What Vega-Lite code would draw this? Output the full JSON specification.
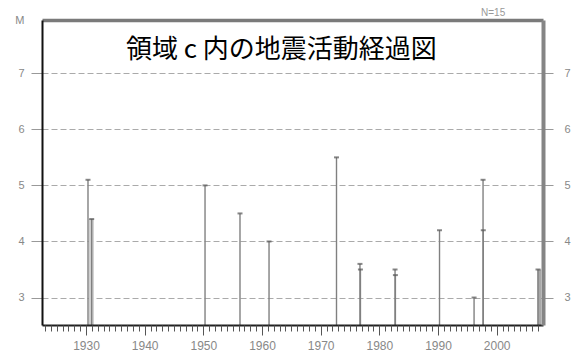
{
  "$schema": "https://vega.github.io/schema/vega-lite/v6.json",
  "width": 501,
  "height": 305,
  "autosize": {"type": "none"},
  "padding": {"left": 42, "top": 20, "right": 29, "bottom": 28},
  "background": "white",
  "config": {"view": {"stroke": null}, "font": "Liberation Sans"},
  "datasets": {
    "quakes": [
      {"t": 1930.34, "m": 5.1},
      {"t": 1930.97, "m": 4.4},
      {"t": 1950.29, "m": 5.0},
      {"t": 1956.25, "m": 4.5},
      {"t": 1961.2, "m": 4.0},
      {"t": 1972.7, "m": 5.5},
      {"t": 1976.7, "m": 3.6},
      {"t": 1976.78, "m": 3.5},
      {"t": 1982.68, "m": 3.5},
      {"t": 1982.74, "m": 3.4},
      {"t": 1990.26, "m": 4.2},
      {"t": 1996.15, "m": 3.0},
      {"t": 1997.68, "m": 5.1},
      {"t": 1997.72, "m": 4.2},
      {"t": 2007.05, "m": 3.5}
    ],
    "bands": [
      {"t0": 1930.45, "t1": 1931.35, "m": 4.4, "g": "a"},
      {"t0": 2006.95, "t1": 2007.6, "m": 3.5, "g": "b"}
    ],
    "labels": [
      {"t": 1963.3, "m": 7.42, "txt": "領域 c 内の地震活動経過図", "k": "title"},
      {"t": 1999.4, "m": 8.07, "txt": "N=15", "k": "n"}
    ]
  },
  "resolve": {"axis": {"x": "independent", "y": "independent"}},
  "layer": [
    {
      "data": {"name": "bands"},
      "mark": {"type": "rect"},
      "encoding": {
        "x": {"field": "t0", "type": "quantitative",
              "scale": {"domain": [1922.5, 2007.9], "zero": false, "nice": false},
              "axis": {"orient": "bottom", "values": [1930, 1940, 1950, 1960, 1970, 1980, 1990, 2000],
                       "format": "d", "title": null, "grid": false, "domain": true, "domainColor": "#222", "domainWidth": 2,
                       "tickSize": 10, "tickColor": "#555", "tickWidth": 1, "labelColor": "#888", "labelFontSize": 12,
                       "labelPadding": 5, "labelFlush": false, "zindex": 1}},
        "x2": {"field": "t1"},
        "y": {"field": "m", "type": "quantitative",
              "scale": {"domain": [2.51, 7.95], "zero": false, "nice": false},
              "axis": {"orient": "left", "values": [3, 4, 5, 6, 7, 7.95],
                       "labelExpr": "datum.value > 7.9 ? 'M' : datum.label",
                       "title": null, "grid": false, "domain": true, "domainColor": "#111", "domainWidth": 2,
                       "tickSize": 11, "tickColor": "#999",
                       "tickOpacity": {"condition": {"test": "datum.value > 7.9", "value": 0}, "value": 1},
                       "labelColor": "#888", "labelFontSize": 11, "labelPadding": 7, "zindex": 1}},
        "y2": {"datum": 2.51},
        "color": {"field": "g", "type": "nominal", "scale": {"domain": ["a", "b"], "range": ["#cfcfcf", "#a8a8a8"]}, "legend": null}
      }
    },
    {
      "data": {"name": "quakes"},
      "mark": {"type": "rule", "color": "#808080", "strokeWidth": 1.4},
      "encoding": {
        "x": {"field": "t", "type": "quantitative",
              "axis": {"orient": "bottom", "values": [1923,1924,1925,1926,1927,1928,1929,1930,1931,1932,1933,1934,1935,1936,1937,1938,1939,1940,1941,1942,1943,1944,1945,1946,1947,1948,1949,1950,1951,1952,1953,1954,1955,1956,1957,1958,1959,1960,1961,1962,1963,1964,1965,1966,1967,1968,1969,1970,1971,1972,1973,1974,1975,1976,1977,1978,1979,1980,1981,1982,1983,1984,1985,1986,1987,1988,1989,1990,1991,1992,1993,1994,1995,1996,1997,1998,1999,2000,2001,2002,2003,2004,2005,2006,2007],
                       "labels": false, "title": null, "grid": false, "domain": false,
                       "tickSize": 6, "tickColor": "#555", "tickWidth": 1, "zindex": 1}},
        "y": {"field": "m", "type": "quantitative",
              "axis": {"orient": "right", "values": [3, 4, 5, 6, 7], "title": null, "grid": false,
                       "domain": true, "domainColor": "#858585", "domainWidth": 4,
                       "tickSize": 10, "tickColor": "#999", "labelColor": "#888", "labelFontSize": 11,
                       "labelPadding": 11, "zindex": 1}},
        "y2": {"datum": 2.51}
      }
    },
    {
      "data": {"name": "quakes"},
      "mark": {"type": "tick", "orient": "horizontal", "color": "#555", "size": 5, "thickness": 2},
      "encoding": {
        "x": {"field": "t", "type": "quantitative",
              "axis": {"orient": "top", "labels": false, "ticks": false, "title": null, "grid": false,
                       "domain": true, "domainColor": "#7a7a7a", "domainWidth": 3.5, "zindex": 1}},
        "y": {"field": "m", "type": "quantitative",
              "axis": {"orient": "left", "values": [3, 4, 5, 6, 7], "labels": false, "ticks": false,
                       "domain": false, "title": null, "grid": true, "gridColor": "#aaa",
                       "gridDash": [6, 3], "gridWidth": 1, "zindex": 0}}
      }
    },
    {
      "data": {"name": "labels"},
      "transform": [{"filter": "datum.k == 'title'"}],
      "mark": {"type": "text", "font": "Noto Sans CJK JP", "fontSize": 26, "color": "#000", "align": "center", "baseline": "middle"},
      "encoding": {
        "x": {"field": "t", "type": "quantitative", "axis": null},
        "y": {"field": "m", "type": "quantitative", "axis": null},
        "text": {"field": "txt"}
      }
    },
    {
      "data": {"name": "labels"},
      "transform": [{"filter": "datum.k == 'n'"}],
      "mark": {"type": "text", "fontSize": 10, "color": "#999", "align": "center", "baseline": "middle"},
      "encoding": {
        "x": {"field": "t", "type": "quantitative", "axis": null},
        "y": {"field": "m", "type": "quantitative", "axis": null},
        "text": {"field": "txt"}
      }
    }
  ]
}
